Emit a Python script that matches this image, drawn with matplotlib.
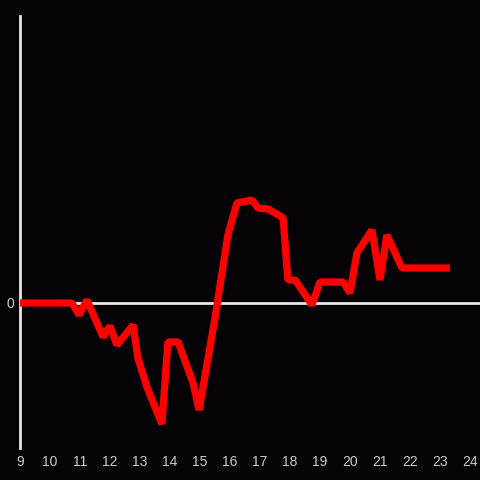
import numpy as np
import matplotlib
matplotlib.use("Agg")
import matplotlib.pyplot as plt

plt.rcParams["font.family"] = ["Liberation Sans", "DejaVu Sans"]

# hours of the day and the value
hours = [9.0, 10.73, 10.97, 11.23, 11.77, 12.0, 12.23, 12.77, 12.93, 13.23,
         13.73, 13.93, 14.27, 14.77, 14.97, 15.5, 15.93, 16.23, 16.73, 16.93,
         17.27, 17.77, 17.93, 18.17, 18.73, 19.0, 19.77, 20.0, 20.23, 20.73,
         21.0, 21.23, 21.73, 23.33]
values = [0, 0, -12, 3, -34, -23, -42, -22, -55, -84,
          -121, -39, -39, -80, -107, -15, 68, 100, 103, 95,
          94, 85, 23, 23, -2, 21, 21, 10, 50, 73,
          23, 68, 35, 35]
xticks = list(range(9, 25))

bg = "#050305"
fig = plt.figure(figsize=(4.8, 4.8), dpi=100, facecolor=bg)
ax = fig.add_axes([20 / 480, 32 / 480, 460 / 480, 432 / 480], facecolor=bg)

ax.axhline(0, color="#e6e6e6", lw=2, zorder=1)
ax.plot(hours, values, color="#ff0000", lw=5.2, solid_joinstyle="bevel",
        solid_capstyle="butt", zorder=3, clip_on=False)

ax.set_xlim(9, 9 + 460 / 30)
ax.set_ylim(-145, 287)
ax.set_xticks(xticks)
ax.set_xticklabels([str(t) for t in xticks])
ax.set_yticks([0])
ax.set_yticklabels(["0"])
ax.tick_params(length=0, colors="#cccccc", labelsize=10)
ax.tick_params(axis="x", pad=5)
ax.tick_params(axis="y", pad=4)

for s in ["top", "right", "bottom"]:
    ax.spines[s].set_visible(False)
ax.spines["left"].set_color("#e6e6e6")
ax.spines["left"].set_linewidth(2)
ax.spines["left"].set_zorder(2)

fig.savefig("out.png", dpi=100, facecolor=bg)
